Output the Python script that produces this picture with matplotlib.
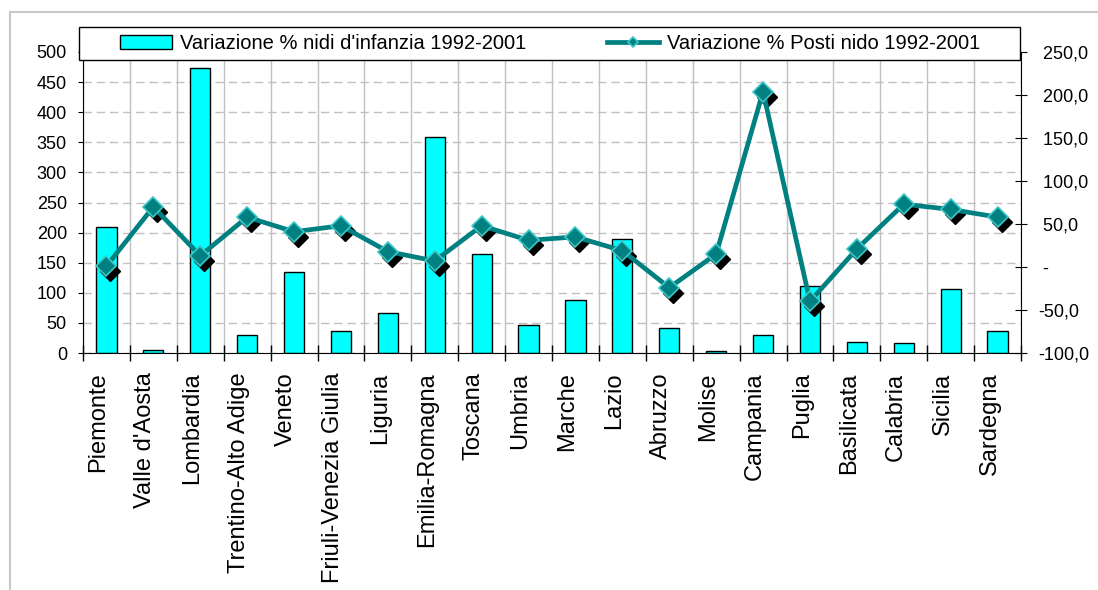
import numpy as np
import matplotlib
matplotlib.use("Agg")
import matplotlib.pyplot as plt
from matplotlib.patches import Rectangle
from matplotlib.lines import Line2D
from matplotlib.transforms import ScaledTranslation

regions = ["Piemonte", "Valle d'Aosta", "Lombardia", "Trentino-Alto Adige", "Veneto",
           "Friuli-Venezia Giulia", "Liguria", "Emilia-Romagna", "Toscana", "Umbria",
           "Marche", "Lazio", "Abruzzo", "Molise", "Campania", "Puglia", "Basilicata",
           "Calabria", "Sicilia", "Sardegna"]
nidi_pct = [210, 5, 474, 30, 135, 36, 67, 358, 164, 46, 88, 190, 41, 3, 30, 112, 18, 16, 106, 36]
posti_pct = [1, 70, 13, 58, 41, 48, 18, 7, 48, 31, 35, 19, -24, 15, 204, -40, 21, 73, 67, 58]
left_ticks = [0, 50, 100, 150, 200, 250, 300, 350, 400, 450, 500]
right_ticks = [-100, -50, 0, 50, 100, 150, 200, 250]
right_labels = ["-100,0", "-50,0", " -", " 50,0", " 100,0", " 150,0", " 200,0", " 250,0"]
legend_labels = ["Variazione % nidi d'infanzia 1992-2001", "Variazione % Posti nido 1992-2001"]

plt.rcParams['font.family'] = ['Liberation Sans', 'DejaVu Sans']

W, H = 1098, 590
fig = plt.figure(figsize=(W / 100, H / 100), dpi=100)
fig.patch.set_facecolor('white')
ax = fig.add_axes([83 / W, 1 - 353 / H, 938 / W, 301 / H])
x = np.arange(len(regions))
bars = ax.bar(x, nidi_pct, width=0.43, color='#00FFFF', edgecolor='black', linewidth=1, zorder=2)
ax.set_xlim(-0.5, len(regions) - 0.5)
ax.set_ylim(0, 500)
ax.set_yticks(left_ticks)
ax.set_xticks(np.arange(-0.5, len(regions), 1))
ax.set_xticklabels([])
ax.set_xticks(x, minor=True)
ax.set_xticklabels(regions, minor=True, rotation=90, fontsize=17)
ax.tick_params(axis='x', which='major', direction='inout', length=12, width=1)
ax.tick_params(axis='x', which='minor', length=0, pad=14)
ax.tick_params(axis='y', direction='out', length=3.6, pad=8, labelsize=13)
ax.grid(axis='x', which='major', color='#C0C0C0', lw=1, ls='-')
ax.grid(axis='y', color='#C0C0C0', lw=1, ls=(0, (6, 3.5)))
ax.set_axisbelow(True)
for s in ['top', 'right']:
    ax.spines[s].set_visible(False)
shift = ScaledTranslation(-8 / 100, 0, fig.dpi_scale_trans)
for lbl in ax.get_xticklabels(minor=True):
    lbl.set_transform(lbl.get_transform() + shift)

ax2 = ax.twinx()
ax2.set_ylim(-100, 250)
ax2.set_yticks(right_ticks)
ax2.set_yticklabels(right_labels)
ax2.tick_params(axis='y', direction='inout', length=8.4, pad=8, labelsize=13)
for s in ['top', 'left', 'bottom']:
    ax2.spines[s].set_visible(False)

shadow_off = ScaledTranslation(4 / 100, -5 / 100, fig.dpi_scale_trans)
ax2.plot(x, posti_pct, ls='none', marker='D', ms=10, mfc='black', mec='black',
         transform=ax2.transData + shadow_off, zorder=2)
line, = ax2.plot(x, posti_pct, color='#008080', lw=3.4, marker='D', ms=10, mfc='#008080',
                 mec='#3CC8C8', mew=1.2, zorder=3)

fig.add_artist(Rectangle((79 / W, 1 - 60 / H), 941 / W, 33 / H, transform=fig.transFigure,
                         facecolor='white', edgecolor='black', lw=1, zorder=4))
fig.legend(handles=[bars, line], labels=legend_labels, ncol=2, frameon=False,
           loc='center left', bbox_to_anchor=(110 / W, 1 - 43.5 / H),
           bbox_transform=fig.transFigure, borderpad=0, handlelength=2.58,
           handleheight=0.63, handletextpad=0.4, columnspacing=4.0, markerscale=0.5,
           fontsize=14.5)

fig.add_artist(Line2D([10 / W, 10 / W], [0, 1 - 12 / H], transform=fig.transFigure,
                      color='#C8C8C8', lw=1.5))
fig.add_artist(Line2D([10 / W, 1], [1 - 12 / H, 1 - 12 / H], transform=fig.transFigure,
                      color='#C8C8C8', lw=1.5))

fig.savefig('out.png', dpi=100)
